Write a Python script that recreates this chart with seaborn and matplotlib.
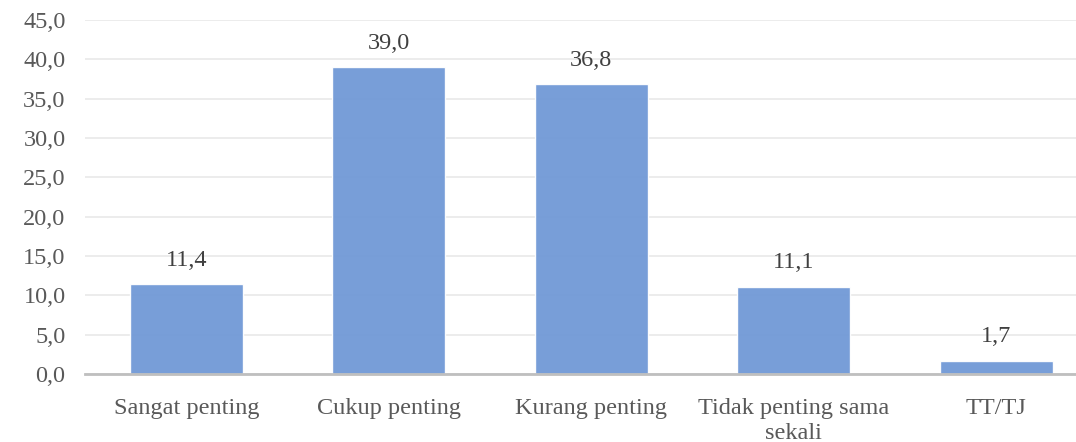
import matplotlib
matplotlib.use("Agg")
import matplotlib.pyplot as plt
import seaborn as sns
import pandas as pd

categories = ["Sangat penting", "Cukup penting", "Kurang penting",
              "Tidak penting sama\nsekali", "TT/TJ"]
values = [11.4, 39.0, 36.8, 11.1, 1.7]

df = pd.DataFrame({"kategori": categories, "persen": values})

sns.set_theme(style="white")
plt.rcParams["font.family"] = ["Liberation Serif", "DejaVu Serif"]

fig = plt.figure(figsize=(10.76, 4.42), dpi=100)
ax = fig.add_axes([0.079, 0.154, 0.941, 0.801])

sns.barplot(data=df, x="kategori", y="persen", color="#7199D6", saturation=1,
            width=0.557, ax=ax, alpha=0.95)

for i, v in enumerate(values):
    ax.text(i, v + 3.0, f"{v:.1f}".replace(".", ","), ha="center", va="center",
            fontsize=17.5, color="#404040")

ax.set_ylim(0, 45)
ax.set_yticks(range(0, 46, 5))
ax.set_yticklabels([f"{t:.1f}".replace(".", ",") for t in range(0, 46, 5)],
                   fontsize=17.5, color="#595959")
ax.tick_params(axis="x", labelsize=17.5, labelcolor="#595959", length=0, pad=17)
ax.tick_params(axis="y", length=0, pad=14)
for lbl in ax.get_xticklabels():
    lbl.set_linespacing(1.25)
ax.set_xlabel("")
ax.set_ylabel("")
ax.yaxis.grid(True, color="#EBEBEB", linewidth=1.3)
ax.set_axisbelow(True)
for s in ["top", "right", "left"]:
    ax.spines[s].set_visible(False)
ax.spines["bottom"].set_color("#BFBFBF")
ax.spines["bottom"].set_linewidth(2)

fig.savefig("out.png", dpi=100)
